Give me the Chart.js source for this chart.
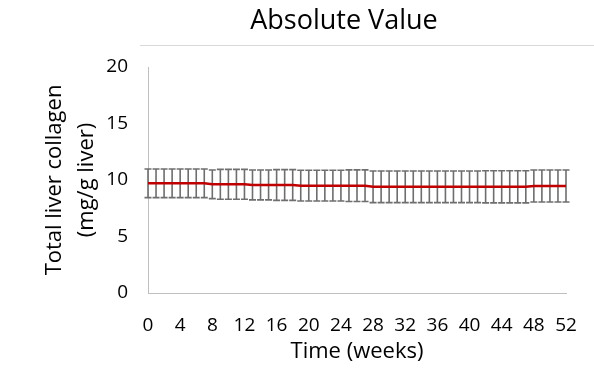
<!DOCTYPE html>
<html><head><meta charset="utf-8">
<script src="https://cdn.jsdelivr.net/npm/chart.js@4.4.0/dist/chart.umd.min.js"></script>
<style>html,body{margin:0;padding:0;background:#fff;overflow:hidden}#wrap{width:594px;height:371px;position:relative}</style>
</head><body><div id="wrap"><canvas id="c" width="594" height="371"></canvas></div>
<script>
const titleText = 'Absolute Value';
const xAxisTitle = 'Time (weeks)';
const yAxisTitle = ['Total liver collagen', '(mg/g liver)'];
const weeks = [0,1,2,3,4,5,6,7,8,9,10,11,12,13,14,15,16,17,18,19,20,21,22,23,24,25,26,27,28,29,30,31,32,33,34,35,36,37,38,39,40,41,42,43,44,45,46,47,48,49,50,51,52];
const collagen = [9.71,9.71,9.71,9.71,9.71,9.71,9.71,9.71,
  9.62,9.62,9.62,9.62,9.62,
  9.56,9.56,9.56,9.56,9.56,9.56,
  9.50,9.50,9.50,9.50,9.50,9.50,9.50,9.50,9.50,
  9.40,9.40,9.40,9.40,9.40,9.40,9.40,9.40,9.40,9.40,9.40,9.40,9.40,9.40,9.40,9.40,9.40,9.40,9.40,9.40,
  9.47,9.47,9.47,9.47,9.47];
const errors = [1.27,1.27,1.27,1.27,1.27,1.27,1.27,1.27,1.27,
  1.32,1.32,1.32,1.32,1.32,1.32,1.32,
  1.36,1.36,1.36,1.36,1.36,1.36,1.36,1.36,1.36,
  1.40,1.40,1.40,1.40,1.40,1.40,1.40,1.40,1.40,1.40,1.40,1.40,1.40,1.40,1.40,1.40,1.40,
  1.42,1.42,1.42,1.42,1.42,1.42,1.42,1.42,1.42,1.42,1.42];
const xTickStep = 4;
const yTickStep = 5;
const xMin = 0, xMax = 52, yMin = 0, yMax = 20;

const errorBarPlugin = {
  id: 'errorBars',
  beforeDatasetsDraw(chart) {
    const {ctx, scales: {x, y}} = chart;
    ctx.save();
    ctx.strokeStyle = '#6e6e6e';
    ctx.lineWidth = 1.6;
    weeks.forEach((w, i) => {
      const px = x.getPixelForValue(w);
      const top = y.getPixelForValue(collagen[i] + errors[i]);
      const bot = y.getPixelForValue(collagen[i] - errors[i]);
      ctx.beginPath();
      ctx.moveTo(px, top); ctx.lineTo(px, bot);
      ctx.moveTo(px - 3.5, top); ctx.lineTo(px + 3.5, top);
      ctx.moveTo(px - 3.5, bot); ctx.lineTo(px + 3.5, bot);
      ctx.stroke();
    });
    ctx.restore();
  }
};

const titlePlugin = {
  id: 'topTitle',
  afterDraw(chart) {
    const ctx = chart.ctx;
    ctx.save();
    ctx.fillStyle = '#000';
    ctx.font = '27px "Open Sans"';
    ctx.textAlign = 'center';
    ctx.textBaseline = 'alphabetic';
    ctx.fillText(titleText, 344, 29);
    ctx.strokeStyle = '#d9d9d9';
    ctx.lineWidth = 1;
    ctx.beginPath();
    ctx.moveTo(140, 45.5); ctx.lineTo(594, 45.5);
    ctx.stroke();
    ctx.restore();
  }
};

new Chart(document.getElementById('c'), {
  type: 'line',
  data: {
    datasets: [{
      data: weeks.map((w, i) => ({x: w, y: collagen[i]})),
      borderColor: '#c00000',
      borderWidth: 2.5,
      pointRadius: 0,
      tension: 0,
      fill: false
    }]
  },
  options: {
    responsive: false,
    animation: false,
    devicePixelRatio: 1,
    layout: {padding: {left: 39, top: 67, right: 28, bottom: 0}},
    plugins: {legend: {display: false}, tooltip: {enabled: false}, title: {display: false}},
    scales: {
      x: {
        type: 'linear', min: xMin, max: xMax,
        grid: {display: false},
        border: {display: true, color: '#bfbfbf', width: 1},
        ticks: {stepSize: xTickStep, autoSkip: false, maxRotation: 0, color: '#000', font: {family: 'Open Sans', size: 19}, padding: 13},
        title: {display: true, text: xAxisTitle, color: '#000', font: {family: 'Open Sans', size: 22}, padding: {top: 0, bottom: 6}},
        afterFit(s) { s.height = 78; }
      },
      y: {
        min: yMin, max: yMax,
        grid: {display: false},
        border: {display: true, color: '#bfbfbf', width: 1},
        ticks: {stepSize: yTickStep, color: '#000', font: {family: 'Open Sans', size: 19}, padding: 12},
        title: {display: true, text: yAxisTitle, color: '#000', font: {family: 'Open Sans', size: 22, lineHeight: 1.45}, padding: {top: 0, bottom: 0}},
        afterFit(s) { s.width = 109; }
      }
    }
  },
  plugins: [errorBarPlugin, titlePlugin]
});
</script></body></html>
